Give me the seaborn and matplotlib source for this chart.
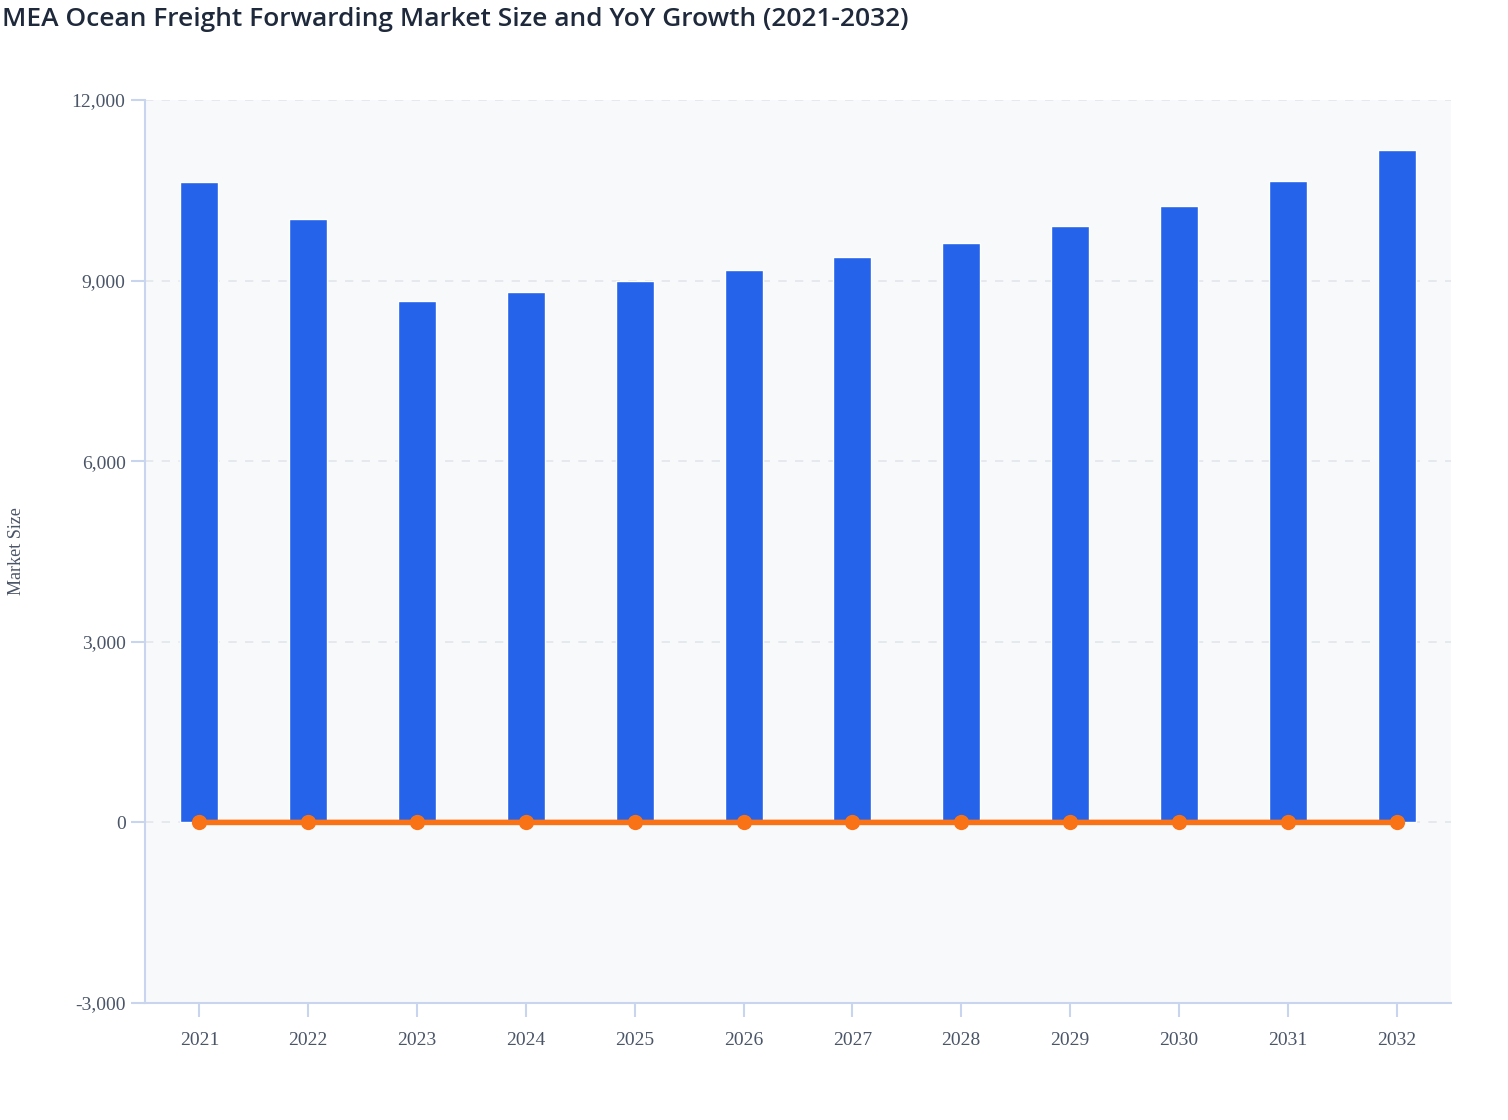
import matplotlib
matplotlib.use("Agg")
import matplotlib.pyplot as plt
import seaborn as sns
import pandas as pd
from matplotlib.ticker import FuncFormatter

# data
years = ["2021", "2022", "2023", "2024", "2025", "2026",
         "2027", "2028", "2029", "2030", "2031", "2032"]
market_size = [10640, 10025, 8665, 8815, 8995, 9180,
               9395, 9625, 9910, 10240, 10655, 11170]
# growth is stored as a ratio, so it sits on the zero line
yoy_growth = [0.0, -0.058, -0.136, 0.017, 0.020, 0.021,
              0.023, 0.024, 0.030, 0.033, 0.041, 0.048]

df = pd.DataFrame({"year": years, "size": market_size, "growth": yoy_growth})

sns.set_theme(style="white")
plt.rcParams['font.family'] = ['Liberation Serif', 'DejaVu Serif']

fig = plt.figure(figsize=(15.08, 11.2), dpi=100)
ax = fig.add_axes([145 / 1508, 1 - 1003 / 1120, (1451 - 145) / 1508, (1003 - 100) / 1120])
ax.set_facecolor("#f8f9fb")

axis_col = "#c9d5ef"
text_col = "#4a5568"

sns.barplot(data=df, x="year", y="size", color="#2563eb", width=0.35,
            saturation=1, ax=ax, zorder=3)
sns.lineplot(data=df, x="year", y="growth", color="#f97316", linewidth=4,
             marker="o", markersize=11, markeredgewidth=0, ax=ax, zorder=4)

ax.set_xlim(-0.5, 11.5)
ax.set_ylim(-3000, 12000)
ax.set_yticks([-3000, 0, 3000, 6000, 9000, 12000])
ax.yaxis.set_major_formatter(FuncFormatter(lambda v, p: f"{int(v):,}"))

ax.grid(axis="y", color="#e2e5ea", linestyle=(0, (5, 5)), linewidth=1.2, zorder=0)
ax.set_axisbelow(True)

for s in ["top", "right"]:
    ax.spines[s].set_visible(False)
for s in ["left", "bottom"]:
    ax.spines[s].set_color(axis_col)
    ax.spines[s].set_linewidth(1.5)

ax.tick_params(axis="both", which="major", length=10, width=1.5, color=axis_col,
               labelsize=14, labelcolor=text_col, direction="out", pad=4,
               left=True, bottom=True)
ax.tick_params(axis="x", pad=11)

ax.set_xlabel("")
ax.set_ylabel("")
fig.text(17 / 1508, 1 - 551 / 1120, "Market Size", rotation=90, fontsize=13,
         color=text_col, ha="center", va="center")

fig.text(0.001, 1 - 19 / 1120, "MEA Ocean Freight Forwarding Market Size and YoY Growth (2021-2032)",
         family=["Open Sans", "DejaVu Sans"], fontsize=19, fontweight="semibold",
         color="#1e293b", ha="left", va="center")

fig.savefig("out.png", dpi=100, facecolor="white")
